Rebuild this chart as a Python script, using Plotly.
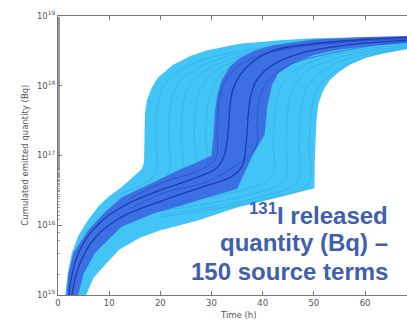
import plotly.graph_objects as go

# ---------------- data ----------------
# Envelope of all light-blue source terms (polygon: upper/left edge then lower/right edge back)
light_env_t = [1.2, 1.4, 2.0, 2.7, 4, 5.9, 8, 10, 12.4, 14.5, 16.3, 16.8, 16.9, 17.0, 17.4, 18.3, 19.5,
               22.5, 26, 29, 35.5, 43.4, 50, 60, 70,
               70, 68.2, 63.5, 60, 57, 55, 53.1, 51.8, 50.9, 50.5, 50.2, 50.1, 42, 35, 27, 20, 16,
               12, 9, 7, 5.5, 5.2]
light_env_bq = [7.9e14, 1.0e15, 2.2e15, 4.0e15, 7.1e15, 1.2e16, 1.9e16, 2.6e16, 3.5e16, 4.8e16, 6.3e16,
                7.9e16, 2.0e17, 4.0e17, 6.3e17, 9.3e17, 1.3e18, 2.0e18, 2.7e18, 3.2e18, 4.0e18, 4.5e18,
                4.8e18, 5.0e18, 5.1e18,
                3.5e18, 3.4e18, 2.9e18, 2.5e18, 2.0e18, 1.6e18, 1.2e18, 8.5e17, 5.6e17, 3.2e17, 1.0e17,
                3.4e16, 2.4e16, 1.8e16, 1.15e16, 8.5e15, 6.6e15, 4.5e15, 2.6e15, 1.8e15, 1.0e15, 7.9e14]

# Envelope of the darker (central) group of source terms
dark_env_t = [1.6, 2.0, 3.0, 5.9, 9, 12.4, 18.9, 23.8, 27, 30, 30.4, 30.7, 31.2, 32, 33.5, 35.5, 38.5,
              42, 50, 60, 70,
              70, 62, 55, 50, 46, 43, 41.8, 40.9, 40.4, 38, 35, 30, 24, 18.9, 12.4, 7.2, 5, 3.6]
dark_env_bq = [7.9e14, 2.0e15, 4.0e15, 8.5e15, 1.5e16, 2.5e16, 4.2e16, 6.3e16, 7.9e16, 1.0e17, 2.0e17,
               4.5e17, 7.9e17, 1.2e18, 1.86e18, 2.5e18, 3.2e18, 3.8e18, 4.6e18, 5.0e18, 5.2e18,
               4.2e18, 3.8e18, 3.3e18, 2.75e18, 2.1e18, 1.5e18, 1.0e18, 5.0e17, 2.0e17, 1.0e17,
               3.3e16, 2.6e16, 1.9e16, 1.5e16, 9.5e15, 4.0e15, 2.0e15, 7.9e14]

# Individual source terms visible as lines (light group)
light_curves_t = [
    [12, 18.8, 19.1, 19.5, 20.5, 23, 28, 36, 50, 70],
    [12, 21.3, 21.6, 22, 23, 25.5, 30, 38, 50, 70],
    [12, 23.8, 24.1, 24.5, 25.5, 28, 33, 40, 52, 70],
    [12, 26.3, 26.6, 27, 28, 30.5, 35, 42, 54, 70],
    [12, 28.6, 28.9, 29.3, 30.3, 32.5, 37, 44, 56, 70],
    [20, 36, 41.8, 42.1, 42.5, 43.5, 46, 51, 58, 70],
    [20, 38, 44.3, 44.6, 45, 46, 48.5, 53, 60, 70],
    [20, 40, 46.8, 47.1, 47.5, 48.5, 51, 55, 62, 70],
    [20, 42, 48.8, 49.1, 49.5, 50.5, 53, 57, 63, 70],
]
light_curves_bq = [
    [2.8e16, 5.2e16, 2.0e17, 5.6e17, 9.5e17, 1.5e18, 2.3e18, 3.2e18, 4.0e18, 4.6e18],
    [2.2e16, 5.0e16, 2.0e17, 5.6e17, 9.5e17, 1.5e18, 2.2e18, 3.2e18, 4.0e18, 4.6e18],
    [2.0e16, 5.2e16, 2.0e17, 5.6e17, 9.5e17, 1.5e18, 2.3e18, 3.2e18, 4.0e18, 4.6e18],
    [1.6e16, 5.6e16, 2.0e17, 5.6e17, 9.5e17, 1.6e18, 2.3e18, 3.2e18, 4.0e18, 4.6e18],
    [1.5e16, 5.8e16, 2.0e17, 5.6e17, 9.5e17, 1.6e18, 2.3e18, 3.2e18, 4.0e18, 4.5e18],
    [2.0e16, 3.2e16, 5.0e16, 1.6e17, 5.0e17, 9.5e17, 1.6e18, 2.4e18, 3.2e18, 4.0e18],
    [1.6e16, 2.8e16, 4.5e16, 1.6e17, 5.0e17, 9.3e17, 1.6e18, 2.3e18, 3.1e18, 3.7e18],
    [1.4e16, 2.6e16, 4.2e16, 1.5e17, 4.5e17, 9.0e17, 1.5e18, 2.2e18, 3.0e18, 3.5e18],
    [1.3e16, 2.5e16, 3.8e16, 1.4e17, 4.2e17, 8.5e17, 1.4e18, 2.1e18, 2.9e18, 3.4e18],
]

# Individual source terms of the darker group
dark_curves_t = [
    [2.0, 2.5, 3.5, 5, 7, 10, 14, 20, 26, 31, 32.5, 33.2, 33.6, 34.2, 35.5, 38, 42, 50, 60, 70],
    [2.5, 4, 7, 12, 20, 28, 34, 36, 36.8, 37.2, 37.8, 39, 42, 48, 56, 70],
    [14, 20, 28, 30.8, 31.1, 31.5, 32.3, 34, 38, 46, 58, 70],
    [14, 20, 30, 38.6, 38.9, 39.3, 40.2, 42, 46, 54, 62, 70],
]
dark_curves_bq = [
    [7.9e14, 1.6e15, 3.2e15, 5.6e15, 8.9e15, 1.4e16, 2.1e16, 3.2e16, 4.5e16, 6.6e16, 1.0e17, 2.0e17,
     5.0e17, 8.9e17, 1.4e18, 2.2e18, 3.2e18, 4.0e18, 4.6e18, 5.0e18],
    [7.9e14, 2.5e15, 6.3e15, 1.26e16, 2.2e16, 3.5e16, 5.0e16, 7.1e16, 1.6e17, 4.0e17, 7.9e17, 1.26e18,
     2.0e18, 3.0e18, 3.8e18, 4.6e18],
    [2.4e16, 4.0e16, 6.3e16, 9.0e16, 2.5e17, 6.0e17, 1.0e18, 1.6e18, 2.5e18, 3.5e18, 4.3e18, 4.8e18],
    [1.7e16, 2.8e16, 4.5e16, 1.3e17, 3.0e17, 6.0e17, 9.5e17, 1.4e18, 2.1e18, 3.0e18, 3.8e18, 4.4e18],
]

x_tick_vals = [0, 10, 20, 30, 40, 50, 60]
y_tick_vals = [1e15, 1e16, 1e17, 1e18, 1e19]
y_tick_text = ["10<sup>15</sup>", "10<sup>16</sup>", "10<sup>17</sup>", "10<sup>18</sup>", "10<sup>19</sup>"]

label_lines = ["<sup>131</sup>I released", "quantity (Bq) –", "150 source terms"]

# ---------------- figure ----------------
LIGHT = "#42c5f6"
MID = "#3c66e0"

fig = go.Figure()

fig.add_trace(go.Scatter(x=light_env_t, y=light_env_bq, fill="toself", fillcolor=LIGHT,
                         mode="lines", line=dict(width=0, color=LIGHT),
                         hoverinfo="skip", showlegend=False))

for t, v in zip(light_curves_t, light_curves_bq):
    fig.add_trace(go.Scatter(x=t, y=v, mode="lines", line=dict(width=1, color="rgba(25,140,215,0.3)"),
                             line_shape="spline", hoverinfo="skip", showlegend=False))

fig.add_trace(go.Scatter(x=dark_env_t, y=dark_env_bq, fill="toself", fillcolor=MID,
                         mode="lines", line=dict(width=0, color=MID),
                         hoverinfo="skip", showlegend=False, opacity=0.9))

for i, (t, v) in enumerate(zip(dark_curves_t, dark_curves_bq)):
    col = "rgba(19,37,154,0.7)" if i < 2 else "rgba(30,60,190,0.5)"
    fig.add_trace(go.Scatter(x=t, y=v, mode="lines", line=dict(width=1.3 if i < 2 else 1, color=col),
                             line_shape="spline", hoverinfo="skip", showlegend=False))

axis_font = dict(family="DejaVu Sans", size=8.5, color="#555555")

fig.update_xaxes(range=[0, 68.2], tickvals=x_tick_vals, ticks="inside", ticklen=4,
                 tickcolor="#777777", showline=True, linecolor="#777777", linewidth=1,
                 mirror="ticks", showgrid=False, zeroline=False, tickfont=axis_font)
fig.update_yaxes(type="log", range=[15, 19], tickvals=y_tick_vals, ticktext=y_tick_text,
                 ticks="inside", ticklen=4, tickcolor="#777777", showline=True,
                 linecolor="#777777", linewidth=1, showgrid=False, zeroline=False,
                 tickfont=axis_font,
                 minor=dict(ticks="inside", ticklen=2, tickcolor="#999999", showgrid=False))

fig.add_annotation(text="Cumulated emitted quantity (Bq)", textangle=-90,
                   xref="paper", yref="paper", x=-0.097, y=0.5, showarrow=False,
                   xanchor="center", yanchor="middle", font=axis_font)
fig.add_annotation(text="Time (h)", xref="paper", yref="paper", x=0.518, y=-0.073,
                   showarrow=False, xanchor="center", yanchor="middle", font=axis_font)
for txt, yy in zip(label_lines, [0.29, 0.187, 0.084]):
    fig.add_annotation(text=txt, xref="paper", yref="paper", x=0.951, y=yy, showarrow=False,
                       xanchor="right", yanchor="middle", align="right",
                       font=dict(family="Liberation Sans", size=24, color="#4060ac", weight="bold"))

fig.update_layout(width=407, height=322, margin=dict(l=58, r=0, t=16, b=27),
                  plot_bgcolor="white", paper_bgcolor="white")

fig.write_html("out.html", config={"displayModeBar": False},
               post_script="document.body.style.margin='0px';")
